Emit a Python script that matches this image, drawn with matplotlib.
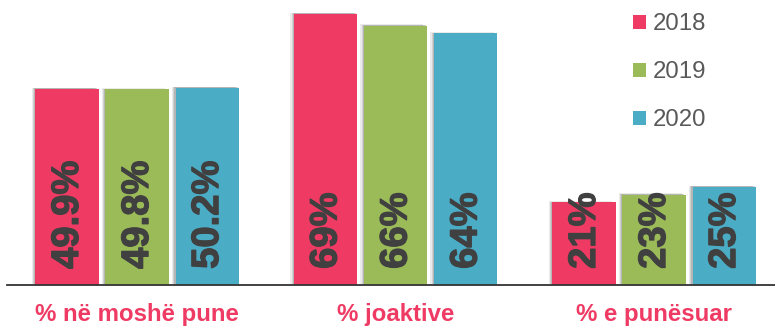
import matplotlib
matplotlib.use("Agg")
import matplotlib.pyplot as plt
import matplotlib.patheffects as pe
from matplotlib.patches import Patch
import numpy as np

categories = ["% në moshë pune", "% joaktive", "% e punësuar"]
years = ["2018", "2019", "2020"]
values_2018 = [49.9, 69, 21]
values_2019 = [49.8, 66, 23]
values_2020 = [50.2, 64, 25]
labels_2018 = ["49.9%", "69%", "21%"]
labels_2019 = ["49.8%", "66%", "23%"]
labels_2020 = ["50.2%", "64%", "25%"]

series = [values_2018, values_2019, values_2020]
series_labels = [labels_2018, labels_2019, labels_2020]
colors = ["#EF3B64", "#9BBB59", "#4BACC6"]

plt.rcParams['font.family'] = ['Liberation Sans', 'DejaVu Sans']

W, H = 775, 329
fig = plt.figure(figsize=(W / 100, H / 100), dpi=100)
ax = fig.add_axes([7 / W, (H - 285) / H, 1 - 7 / W, 285 / H])

x = np.arange(len(categories))
step = 0.271
width = 0.244
shadow = [pe.SimplePatchShadow(offset=(-2.6, 0.8), shadow_rgbFace='#999999', alpha=0.2),
          pe.SimplePatchShadow(offset=(-1.6, 0.5), shadow_rgbFace='#888888', alpha=0.25),
          pe.SimplePatchShadow(offset=(-0.8, 0.3), shadow_rgbFace='#777777', alpha=0.3),
          pe.Normal()]
text_fx = [pe.withStroke(linewidth=0.9, foreground='#404040')]

for i, (vals, labs, col) in enumerate(zip(series, series_labels, colors)):
    pos = x + (i - 1) * step
    bars = ax.bar(pos, vals, width=width, color=col, label=years[i], zorder=2)
    for b in bars:
        b.set_path_effects(shadow)
    for p, lab in zip(pos, labs):
        ax.text(p + 0.004, 4.1, lab, rotation=90, ha='center', va='bottom',
                fontsize=27.5, fontweight='bold', color='#404040', zorder=3,
                path_effects=text_fx)

ax.set_xlim(-0.503, 2.468)
ax.set_ylim(0, 72.5)
for s in ['top', 'right', 'left']:
    ax.spines[s].set_visible(False)
ax.spines['bottom'].set_color('#333333')
ax.spines['bottom'].set_linewidth(1.3)
ax.spines['bottom'].set_zorder(4)
ax.set_yticks([])
ax.set_xticks([])

for xi, cat in zip(x, categories):
    fig.text((7 + (xi + 0.503) / (2.468 + 0.503) * (W - 7)) / W, 1 - 315 / H, cat,
             ha='center', va='center', fontsize=17.3, fontweight='bold', color='#EF3B64')

handles = [Patch(facecolor=c, edgecolor='none') for c in colors]
leg = fig.legend(handles, years, loc='upper left', bbox_to_anchor=(633 / W, 1 - 13.5 / H),
                 frameon=False, fontsize=17.3, handlelength=0.55, handleheight=0.55,
                 handletextpad=0.28, labelspacing=1.08, borderpad=0, borderaxespad=0)
for t in leg.get_texts():
    t.set_color('#595959')

fig.savefig("out.png", dpi=100)
